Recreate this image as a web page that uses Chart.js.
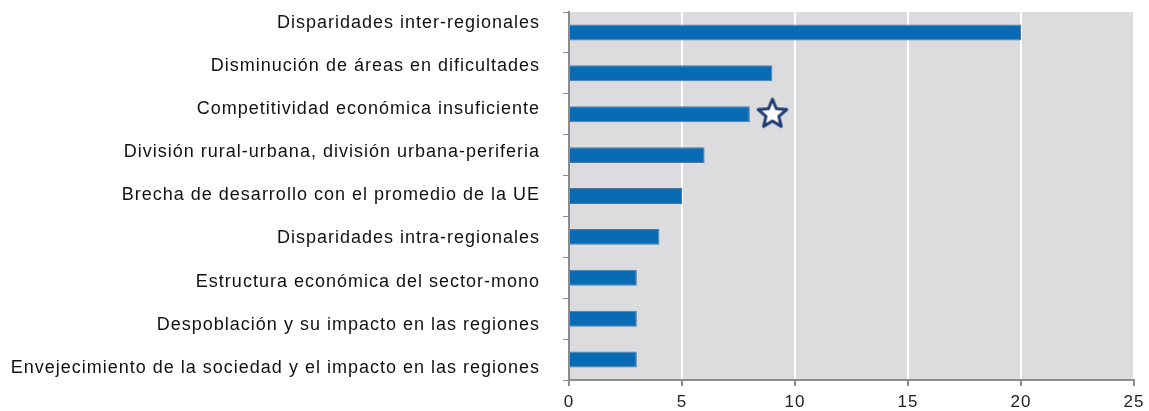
<!DOCTYPE html>
<html>
<head>
<meta charset="utf-8">
<script src="https://cdn.jsdelivr.net/npm/chart.js@4"></script>
<style>
  html, body { margin: 0; padding: 0; background: #fff; }
  #wrap { width: 1149px; height: 411px; }
</style>
</head>
<body>
<div id="wrap"><canvas id="barChart" width="1149" height="411"></canvas></div>
<script>
const categories = [
  "Disparidades inter-regionales",
  "Disminución de áreas en dificultades",
  "Competitividad económica insuficiente",
  "División rural-urbana, división urbana-periferia",
  "Brecha de desarrollo con el promedio de la UE",
  "Disparidades intra-regionales",
  "Estructura económica del sector-mono",
  "Despoblación y su impacto en las regiones",
  "Envejecimiento de la sociedad y el impacto en las regiones"
];
const counts = [20, 9, 8, 6, 5, 4, 3, 3, 3];
const starMarks = [null, null, 9, null, null, null, null, null, null];
const xTicks = [0, 5, 10, 15, 20, 25];
const labelRows = [0, 1, 2, 3, 4, 5, 6, 7, 8];

const FONT = "Liberation Sans, Arial, sans-serif";
// the name column in the source is spaced a little wider than the bars
const LABEL_MIN = -0.255;
const LABEL_MAX = 8.283;

// star marker drawn once on a small canvas
function makeStar(r) {
  const c = document.createElement("canvas");
  const size = r * 2 + 6;
  c.width = size; c.height = size;
  const g = c.getContext("2d");
  g.beginPath();
  for (let i = 0; i < 10; i++) {
    const rad = i % 2 === 0 ? r : r * 0.45;
    const a = -Math.PI / 2 + i * Math.PI / 5;
    const px = size / 2 + rad * Math.cos(a);
    const py = size / 2 + rad * Math.sin(a);
    if (i === 0) g.moveTo(px, py); else g.lineTo(px, py);
  }
  g.closePath();
  g.fillStyle = "#ffffff";
  g.fill();
  g.lineWidth = 3;
  g.lineJoin = "round";
  g.strokeStyle = "#1d3e74";
  g.stroke();
  return c;
}

const plotBg = {
  id: "plotBg",
  beforeDraw(chart) {
    const a = chart.chartArea;
    const ctx = chart.ctx;
    ctx.letterSpacing = "1px"; // source text is set wide
    ctx.save();
    ctx.fillStyle = "#dcdcdf";
    ctx.fillRect(a.left, a.top, a.right - a.left, a.bottom - a.top);
    ctx.restore();
  }
};

const noPad = s => { s.paddingTop = 0; s.paddingBottom = 0; };

const ctx = document.getElementById("barChart").getContext("2d");
new Chart(ctx, {
  type: "bar",
  data: {
    labels: categories,
    datasets: [{
      label: "Menciones",
      data: counts,
      backgroundColor: "#0a6bb5",
      borderColor: "#4b79a6",
      borderWidth: 1,
      borderSkipped: "start",
      categoryPercentage: 1,
      barPercentage: 0.39
    }, {
      type: "line",
      label: "Destacado",
      data: starMarks,
      showLine: false,
      pointStyle: makeStar(15),
      pointRadius: 15,
      pointHoverRadius: 15
    }]
  },
  options: {
    indexAxis: "y",
    responsive: false,
    animation: false,
    layout: { autoPadding: false, padding: { left: 10, right: 15, top: 12, bottom: 0 } },
    plugins: {
      legend: { display: false },
      tooltip: { enabled: false }
    },
    scales: {
      x: {
        min: 0,
        max: 25,
        afterBuildTicks: s => { s.ticks = xTicks.map(v => ({ value: v })); },
        afterFit: s => { s.height = 31; s.paddingLeft = 0; s.paddingRight = 0; },
        border: { color: "#8c8c8c", width: 2 },
        grid: { color: "#ffffff", lineWidth: 2, tickColor: "#8c8c8c", tickLength: 6 },
        ticks: {
          padding: 6,
          color: "#222",
          font: { family: FONT, size: 17 }
        }
      },
      y: {
        weight: 0,
        afterFit: s => { s.width = 8; noPad(s); },
        border: { color: "#8c8c8c", width: 2 },
        grid: { offset: true, drawOnChartArea: false, tickColor: "#8c8c8c", tickLength: 6 },
        ticks: { display: false }
      },
      yLabels: {
        type: "linear",
        position: "left",
        weight: 1,
        reverse: true,
        offset: false,
        bounds: "data",
        min: LABEL_MIN,
        max: LABEL_MAX,
        afterBuildTicks: s => {
          s.ticks = labelRows.map(v => ({ value: v }));
          s.min = LABEL_MIN;
          s.max = LABEL_MAX;
        },
        afterFit: s => { s.width = 551; noPad(s); },
        border: { display: false },
        grid: { display: false, drawTicks: false, offset: false },
        ticks: {
          autoSkip: false,
          padding: 21,
          color: "#111",
          font: { family: FONT, size: 18 },
          callback: v => categories[v]
        }
      }
    }
  },
  plugins: [plotBg]
});
</script>
</body>
</html>
